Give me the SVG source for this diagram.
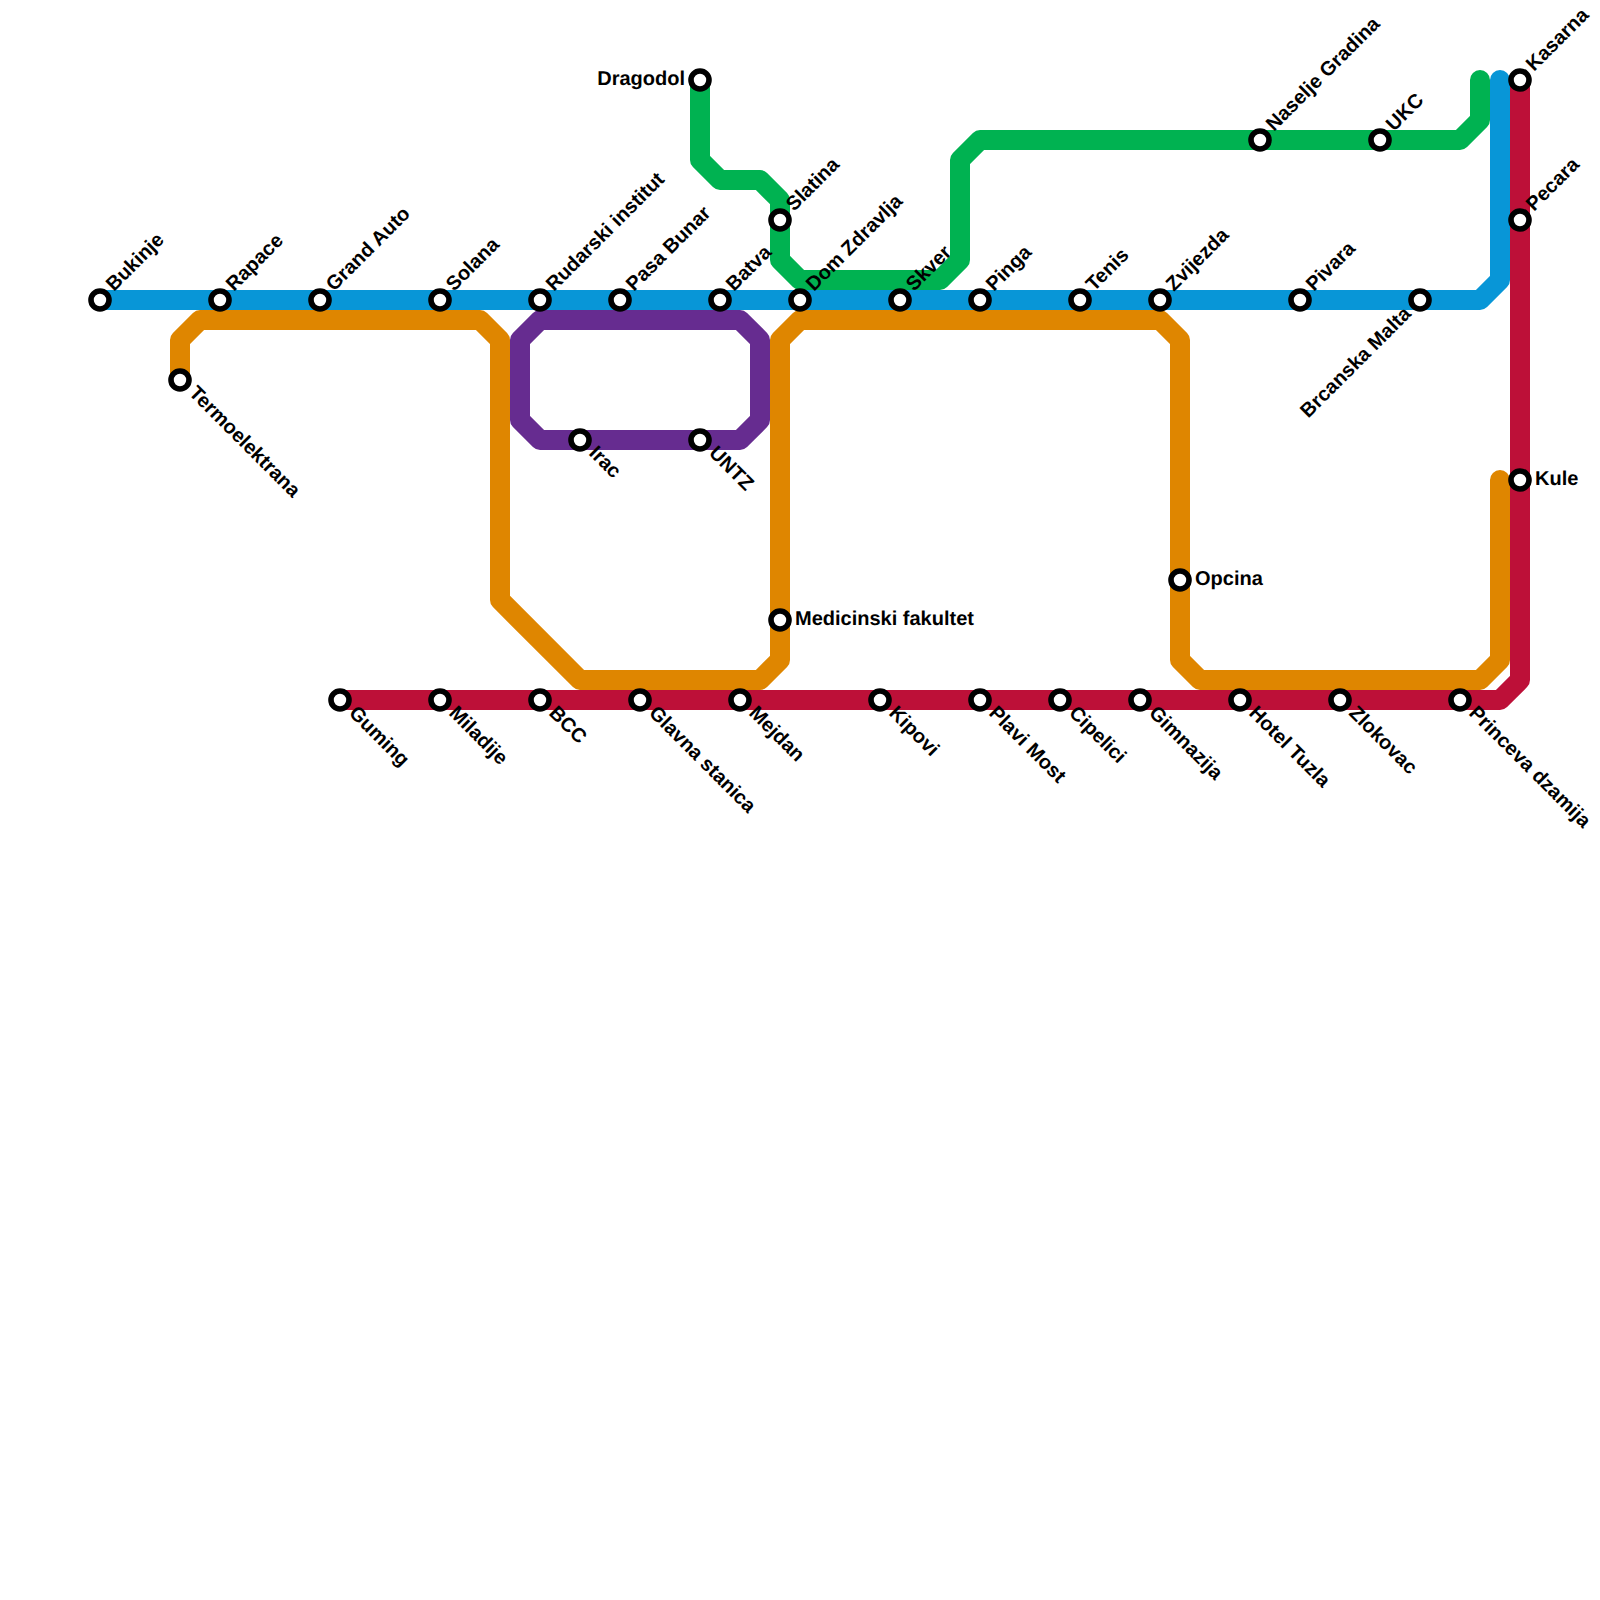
<svg xmlns="http://www.w3.org/2000/svg" width="1600" height="1600" viewBox="0 0 1600 1600">
<style>
.line{fill:none;stroke-width:20;stroke-linecap:round;stroke-linejoin:round}
.st{fill:#fff;stroke:#000;stroke-width:5.6}
text{font-family:"Liberation Sans",Arial,sans-serif;font-weight:bold;font-size:20px;fill:#000;text-rendering:geometricPrecision}
</style>
<rect width="1600" height="1600" fill="#fff"/>
<g id="connectors">
<path class="line" stroke="#0896d7" d="M100 300H1480L1500 280V80"/>
<path class="line" stroke="#00b251" d="M700 80V160L720 180H760L780 200V260L800 280H940L960 260V160L980 140H1460L1480 120V80"/>
<path class="line" stroke="#df8600" d="M180 380V340L200 320H480L500 340V600L580 680H760L780 660V340L800 320H1160L1180 340V660L1200 680H1480L1500 660V480"/>
<path class="line" stroke="#662c90" d="M540 320H740L760 340V420L740 440H540L520 420V340Z"/>
<path class="line" stroke="#bd1038" d="M340 700H1500L1520 680V80"/>
</g>
<g id="n1"><circle class="st" cx="100" cy="300" r="9"/><text transform="translate(114 292) rotate(-45)">Bukinje</text></g>
<g id="n2"><circle class="st" cx="220" cy="300" r="9"/><text transform="translate(234 292) rotate(-45)">Rapace</text></g>
<g id="n3"><circle class="st" cx="320" cy="300" r="9"/><text transform="translate(334 292) rotate(-45)">Grand Auto</text></g>
<g id="n4"><circle class="st" cx="440" cy="300" r="9"/><text transform="translate(454 292) rotate(-45)">Solana</text></g>
<g id="n5"><circle class="st" cx="540" cy="300" r="9"/><text transform="translate(554 292) rotate(-45)">Rudarski institut</text></g>
<g id="n6"><circle class="st" cx="620" cy="300" r="9"/><text transform="translate(634 292) rotate(-45)">Pasa Bunar</text></g>
<g id="n7"><circle class="st" cx="720" cy="300" r="9"/><text transform="translate(734 292) rotate(-45)">Batva</text></g>
<g id="n8"><circle class="st" cx="800" cy="300" r="9"/><text transform="translate(814 292) rotate(-45)">Dom Zdravlja</text></g>
<g id="n9"><circle class="st" cx="900" cy="300" r="9"/><text transform="translate(914 292) rotate(-45)">Skver</text></g>
<g id="n10"><circle class="st" cx="980" cy="300" r="9"/><text transform="translate(994 292) rotate(-45)">Pinga</text></g>
<g id="n11"><circle class="st" cx="1080" cy="300" r="9"/><text transform="translate(1094 292) rotate(-45)">Tenis</text></g>
<g id="n12"><circle class="st" cx="1160" cy="300" r="9"/><text transform="translate(1174 292) rotate(-45)">Zvijezda</text></g>
<g id="n13"><circle class="st" cx="1300" cy="300" r="9"/><text transform="translate(1314 292) rotate(-45)">Pivara</text></g>
<g id="n14"><circle class="st" cx="1420" cy="300" r="9"/><text text-anchor="end" transform="translate(1412 315) rotate(-45)">Brcanska Malta</text></g>
<g id="n15"><circle class="st" cx="180" cy="380" r="9"/><text transform="translate(188 394) rotate(45)">Termoelektrana</text></g>
<g id="n16"><circle class="st" cx="580" cy="440" r="9"/><text transform="translate(588 454) rotate(45)">Irac</text></g>
<g id="n17"><circle class="st" cx="700" cy="440" r="9"/><text transform="translate(708 454) rotate(45)">UNTZ</text></g>
<g id="n18"><circle class="st" cx="700" cy="80" r="9"/><text text-anchor="end" x="685" y="85">Dragodol</text></g>
<g id="n19"><circle class="st" cx="780" cy="220" r="9"/><text transform="translate(794 212) rotate(-45)">Slatina</text></g>
<g id="n20"><circle class="st" cx="780" cy="620" r="9"/><text x="795" y="625">Medicinski fakultet</text></g>
<g id="n21"><circle class="st" cx="1180" cy="580" r="9"/><text x="1195" y="585">Opcina</text></g>
<g id="n22"><circle class="st" cx="1260" cy="140" r="9"/><text transform="translate(1274 132) rotate(-45)">Naselje Gradina</text></g>
<g id="n23"><circle class="st" cx="1380" cy="140" r="9"/><text transform="translate(1394 132) rotate(-45)">UKC</text></g>
<g id="n24"><circle class="st" cx="1520" cy="80" r="9"/><text transform="translate(1534 72) rotate(-45)">Kasarna</text></g>
<g id="n25"><circle class="st" cx="1520" cy="220" r="9"/><text transform="translate(1534 212) rotate(-45)">Pecara</text></g>
<g id="n26"><circle class="st" cx="1520" cy="480" r="9"/><text x="1535" y="485">Kule</text></g>
<g id="n27"><circle class="st" cx="340" cy="700" r="9"/><text transform="translate(348 714) rotate(45)">Guming</text></g>
<g id="n28"><circle class="st" cx="440" cy="700" r="9"/><text transform="translate(448 714) rotate(45)">Miladije</text></g>
<g id="n29"><circle class="st" cx="540" cy="700" r="9"/><text transform="translate(548 714) rotate(45)">BCC</text></g>
<g id="n30"><circle class="st" cx="640" cy="700" r="9"/><text transform="translate(648 714) rotate(45)">Glavna stanica</text></g>
<g id="n31"><circle class="st" cx="740" cy="700" r="9"/><text transform="translate(748 714) rotate(45)">Mejdan</text></g>
<g id="n32"><circle class="st" cx="880" cy="700" r="9"/><text transform="translate(888 714) rotate(45)">Kipovi</text></g>
<g id="n33"><circle class="st" cx="980" cy="700" r="9"/><text transform="translate(988 714) rotate(45)">Plavi Most</text></g>
<g id="n34"><circle class="st" cx="1060" cy="700" r="9"/><text transform="translate(1068 714) rotate(45)">Cipelici</text></g>
<g id="n35"><circle class="st" cx="1140" cy="700" r="9"/><text transform="translate(1148 714) rotate(45)">Gimnazija</text></g>
<g id="n36"><circle class="st" cx="1240" cy="700" r="9"/><text transform="translate(1248 714) rotate(45)">Hotel Tuzla</text></g>
<g id="n37"><circle class="st" cx="1340" cy="700" r="9"/><text transform="translate(1348 714) rotate(45)">Zlokovac</text></g>
<g id="n38"><circle class="st" cx="1460" cy="700" r="9"/><text transform="translate(1468 714) rotate(45)">Princeva dzamija</text></g>
</svg>
